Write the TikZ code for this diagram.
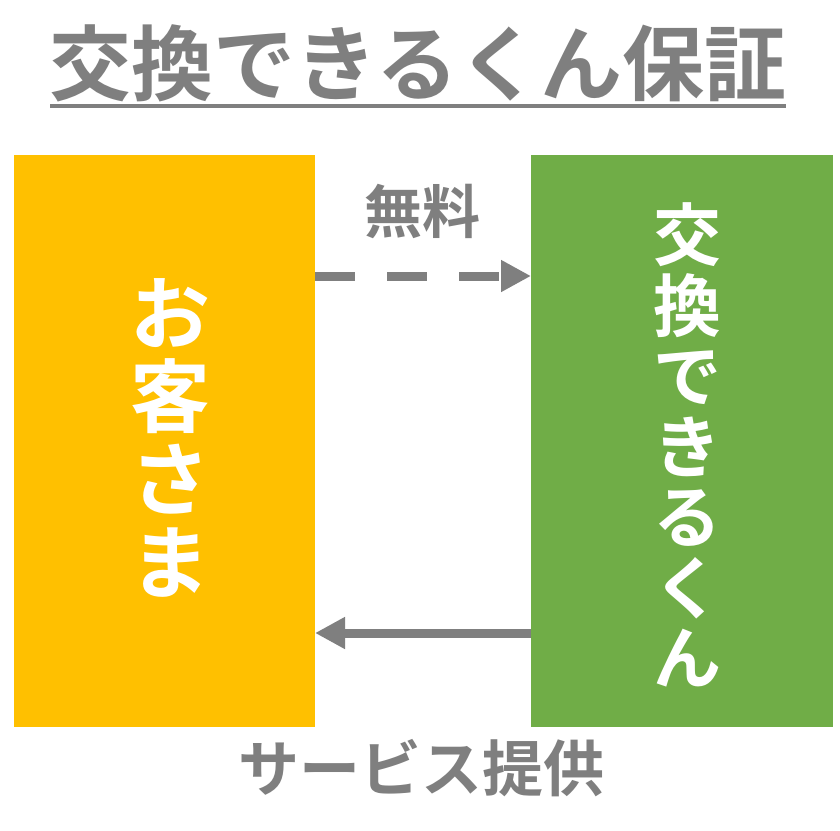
\documentclass[tikz,border=0pt]{standalone}
\usepackage{fontspec}
\setmainfont{Noto Sans CJK JP}[BoldFont={* Bold}]
\usetikzlibrary{arrows.meta}
\definecolor{boxorange}{HTML}{FFC000}
\definecolor{boxgreen}{HTML}{70AD47}
\definecolor{txtgray}{HTML}{7F7F7F}
\tikzset{
  box/.style={draw=none, inner sep=0pt, outer sep=0pt},
  vtext/.style={text=white, font=\bfseries, align=center, inner sep=0pt},
  flow/.style={draw=txtgray, line width=9pt, -{Triangle[length=30pt,width=30pt]}},
  lbl/.style={text=txtgray, font=\bfseries, inner sep=0pt}
}
\begin{document}
\begin{tikzpicture}[x=1pt,y=-1pt]
\useasboundingbox (0,0) rectangle (840,830);
\fill[white] (0,0) rectangle (840,830);
% title
\node[lbl, font=\fontsize{82}{86}\selectfont\bfseries] (title) at (418,63) {交換できるくん保証};
\draw[txtgray, line width=3.5pt] (50,106) -- (786,106);
% boxes
\fill[boxorange] (14,155) rectangle (315,727);
\fill[boxgreen] (531,155) rectangle (833,727);
\node[box, minimum width=301pt, minimum height=572pt] (cust) at (164.5,441) {};
\node[box, minimum width=302pt, minimum height=572pt] (kk) at (682,441) {};
\node[vtext, font=\fontsize{80}{83}\selectfont\bfseries] at (170,438) {お\\客\\さ\\ま};
\node[vtext, font=\fontsize{68}{70.5}\selectfont\bfseries] at (687,445) {交\\換\\で\\き\\る\\く\\ん};
% arrows
\coordinate (a1s) at (cust.east |- 0,276);
\coordinate (a1e) at (kk.west |- 0,276);
\draw[flow, dash pattern=on 40pt off 32pt] (a1s) -- (a1e);
\coordinate (a2s) at (kk.west |- 0,633);
\coordinate (a2e) at (cust.east |- 0,633);
\draw[flow] (a2s) -- (a2e);
% labels
\node[lbl, font=\fontsize{58}{60}\selectfont\bfseries] (free) at (422,211) {無料};
\node[lbl, font=\fontsize{61}{63}\selectfont\bfseries] (svc) at (421,768) {サービス提供};
\end{tikzpicture}
\end{document}
